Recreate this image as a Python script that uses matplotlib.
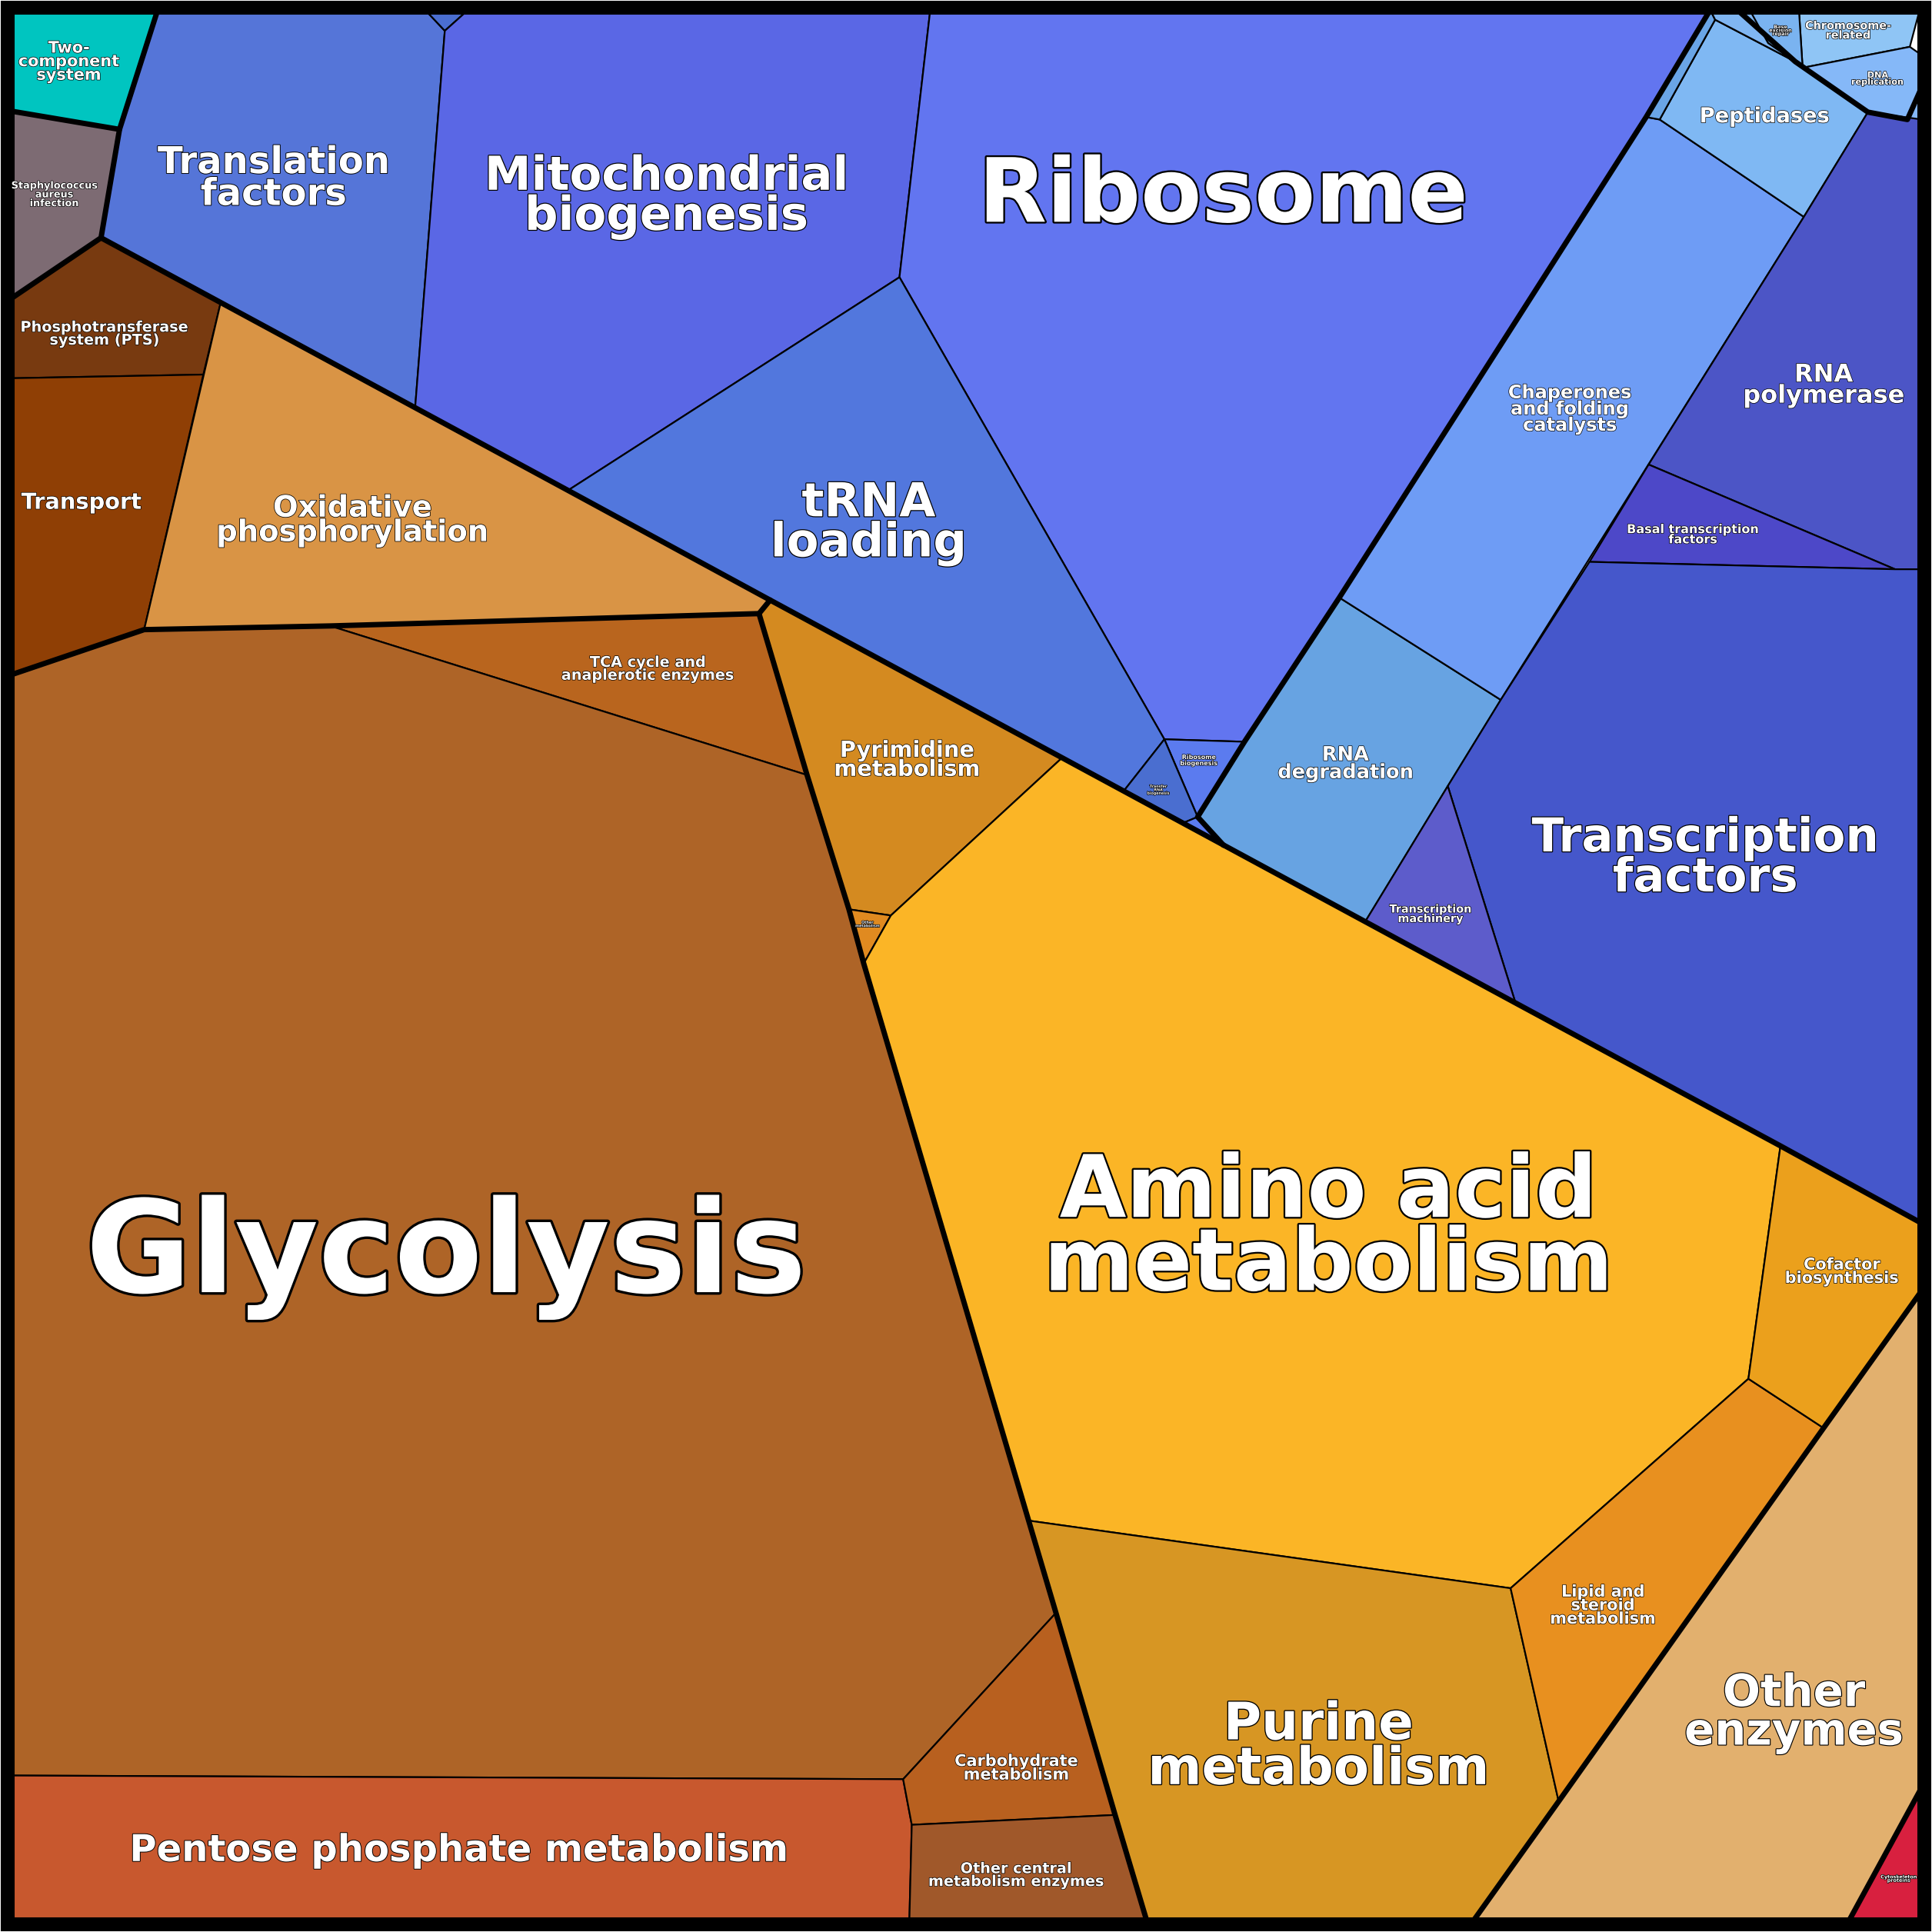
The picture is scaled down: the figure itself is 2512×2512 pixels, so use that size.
import matplotlib
matplotlib.use("Agg")
import matplotlib.pyplot as plt
from matplotlib.patches import Polygon
import matplotlib.patheffects as pe

names = ["Two-\ncomponent\nsystem","Staphylococcus\naureus\ninfection","Phosphotransferase\nsystem (PTS)","Transport",
 "Oxidative\nphosphorylation","TCA cycle and\nanaplerotic enzymes","Glycolysis","Pentose phosphate metabolism",
 "Carbohydrate\nmetabolism","Other central\nmetabolism enzymes","Pyrimidine\nmetabolism","Other\nmetabolism",
 "Amino acid\nmetabolism","Purine\nmetabolism","Lipid and\nsteroid\nmetabolism","Cofactor\nbiosynthesis",
 "Other\nenzymes","Cytoskeleton\nproteins",
 "Translation\nfactors","","Mitochondrial\nbiogenesis","Ribosome","tRNA\nloading","Ribosome\nbiogenesis",
 "Transfer\nRNA\nbiogenesis","","RNA\ndegradation","Chaperones\nand folding\ncatalysts","Peptidases","",
 "RNA\npolymerase","Basal transcription\nfactors","Transcription\nfactors","Transcription\nmachinery",
 "Chromosome-\nrelated","DNA\nreplication","Base\nexcision\nrepair",""]
colors = ["#00c5c0","#7d6b73","#783a10","#8f3f05","#d99445","#b9651e","#ae6427","#c8582e","#b8601f","#a0582a",
 "#d48a20","#e08a20","#fbb526","#d79623","#e8901f","#eba01c","#e2b06e","#d8203f",
 "#5575d8","#4a6ed0","#5a67e5","#6275f0","#5277dd","#5b7bef","#4a6ed0","#5b7bef","#67a3e2","#6e9cf5","#7fb8f3","#6aa5e6",
 "#4c55c6","#4d48c8","#4557cb","#5d5ccb","#8fc5f5","#85b8f8","#7ab3f0","#80b6f2"]
cells = [
 [(8,8),(128,8),(97,105),(8,90)],
 [(8,90),(97,105),(82,193),(8,243)],
 [(8,243),(82,193),(179,246),(165,304),(8,307)],
 [(8,307),(165,304),(117,511),(8,548)],
 [(179,246),(625,487),(616,498),(268,508),(117,511)],
 [(268,508),(616,498),(655,629)],
 [(8,548),(117,511),(268,508),(655,629),(689,738),(701,782),(857,1309),(733,1444),(8,1441)],
 [(8,1441),(733,1444),(740,1481),(738,1560),(8,1560)],
 [(857,1309),(905,1473),(740,1481),(733,1444)],
 [(740,1481),(905,1473),(931,1560),(738,1560)],
 [(616,498),(625,487),(862,615),(723,743),(689,738),(655,629)],
 [(689,738),(723,743),(701,782)],
 [(862,615),(1108,748),(1230,814),(1445,930),(1419,1119),(1226,1289),(834,1234),(701,782),(723,743)],
 [(834,1234),(1226,1289),(1265,1462),(1195,1560),(931,1560),(905,1473),(857,1309)],
 [(1226,1289),(1419,1119),(1480,1159),(1265,1462)],
 [(1445,930),(1560,993),(1560,1047),(1480,1159),(1419,1119)],
 [(1480,1159),(1560,1047),(1560,1450),(1500,1560),(1195,1560),(1265,1462)],
 [(1560,1450),(1560,1560),(1500,1560)],
 [(128,8),(345,8),(361,25),(337,330),(82,193),(97,105)],
 [(345,8),(380,8),(361,25)],
 [(380,8),(755,8),(730,225),(461,398),(337,330),(361,25)],
 [(755,8),(1388,8),(1336,95),(1087,485),(1010,602),(945,600),(730,225)],
 [(730,225),(945,600),(912,642),(461,398)],
 [(945,600),(1010,602),(972,663)],
 [(945,600),(972,663),(960,668),(912,642)],
 [(972,663),(993,686),(960,668)],
 [(1010,602),(1087,485),(1218,568),(1175,638),(1108,748),(993,686),(972,663)],
 [(1336,95),(1347,97),(1464,176),(1218,568),(1087,485)],
 [(1392,16),(1457,50),(1516,91),(1464,176),(1347,97)],
 [(1388,8),(1392,16),(1347,97),(1336,95)],
 [(1516,91),(1548,97),(1560,70),(1560,462),(1538,462),(1338,377),(1464,176)],
 [(1338,377),(1538,462),(1290,456)],
 [(1290,456),(1538,462),(1560,462),(1560,993),(1230,814),(1175,638),(1218,568)],
 [(1175,638),(1230,814),(1108,748)],
 [(1460,8),(1558,8),(1550,38),(1463,55)],
 [(1463,55),(1550,38),(1560,45),(1560,97),(1516,91)],
 [(1420,10),(1460,8),(1463,55),(1435,35)],
 [(1388,8),(1420,8),(1435,35),(1457,50),(1392,16)],
]
label_pos = [(56,50),(44,158),(85,271),(66,408),(286,423),(526,543),(362,1020),(372,1502),(825,1435),(825,1522),
 (736,617),(704,750),(1078,998),(1070,1418),(1301,1303),(1495,1032),(1456,1390),(1541,1525),
 (222,145),(362,10),(541,160),(993,160),(705,425),(973,617),(940,641),(980,672),(1092,620),(1274,332),(1432,95),(1372,48),
 (1480,313),(1374,434),(1384,697),(1161,742),(1500,25),(1524,64),(1445,25),(1400,20)]
label_size = [13,8,12,18,24,12,104,30,13,12,18,3,70,42,13,13,36,4,
 30,2,38,72,38,5,3,2,16,15,17,2,20,10,38,9,9,7,4,2]

fig = plt.figure(figsize=(25.12,25.12), dpi=100)
ax = fig.add_axes([0,0,1,1])
ax.set_xlim(0,1568); ax.set_ylim(1568,0); ax.axis("off")
k = 1.602*72/100
for poly,c in zip(cells,colors):
    ax.add_patch(Polygon(poly, closed=True, fc=c, ec="black", lw=1.6, joinstyle="round"))
for n,(x,y),s in zip(names,label_pos,label_size):
    if not n: continue
    fs = s*k
    ax.text(x,y,n,ha="center",va="center",color="white",fontweight="bold",fontsize=fs,
            linespacing=0.85,path_effects=[pe.withStroke(linewidth=max(1,fs/25),foreground="black")])
thick = [
 [(82,193),(461,398),(625,487),(862,615),(1108,748),(1230,814),(1445,930),(1560,993)],
 [(1560,1047),(1480,1159),(1265,1462),(1195,1560)],
 [(1560,1450),(1500,1560)],
 [(8,548),(117,511),(268,508),(616,498),(625,487)],
 [(616,498),(655,629),(689,738),(701,782),(857,1309),(905,1473),(931,1560)],
 [(128,8),(97,105),(82,193),(8,243)],
 [(8,90),(97,105)],
 [(1388,8),(1336,95),(1087,485),(1010,602),(972,663),(993,686)],
 [(1410,8),(1457,50),(1516,91),(1548,97),(1560,70)],
]
for s in thick:
    ax.plot(*zip(*s), color="black", lw=5, solid_capstyle="round", solid_joinstyle="round")
ax.add_patch(Polygon([(6,6),(1562,6),(1562,1562),(6,1562)], closed=True, fill=False, ec="black", lw=13))
fig.savefig("out.png", dpi=100)
